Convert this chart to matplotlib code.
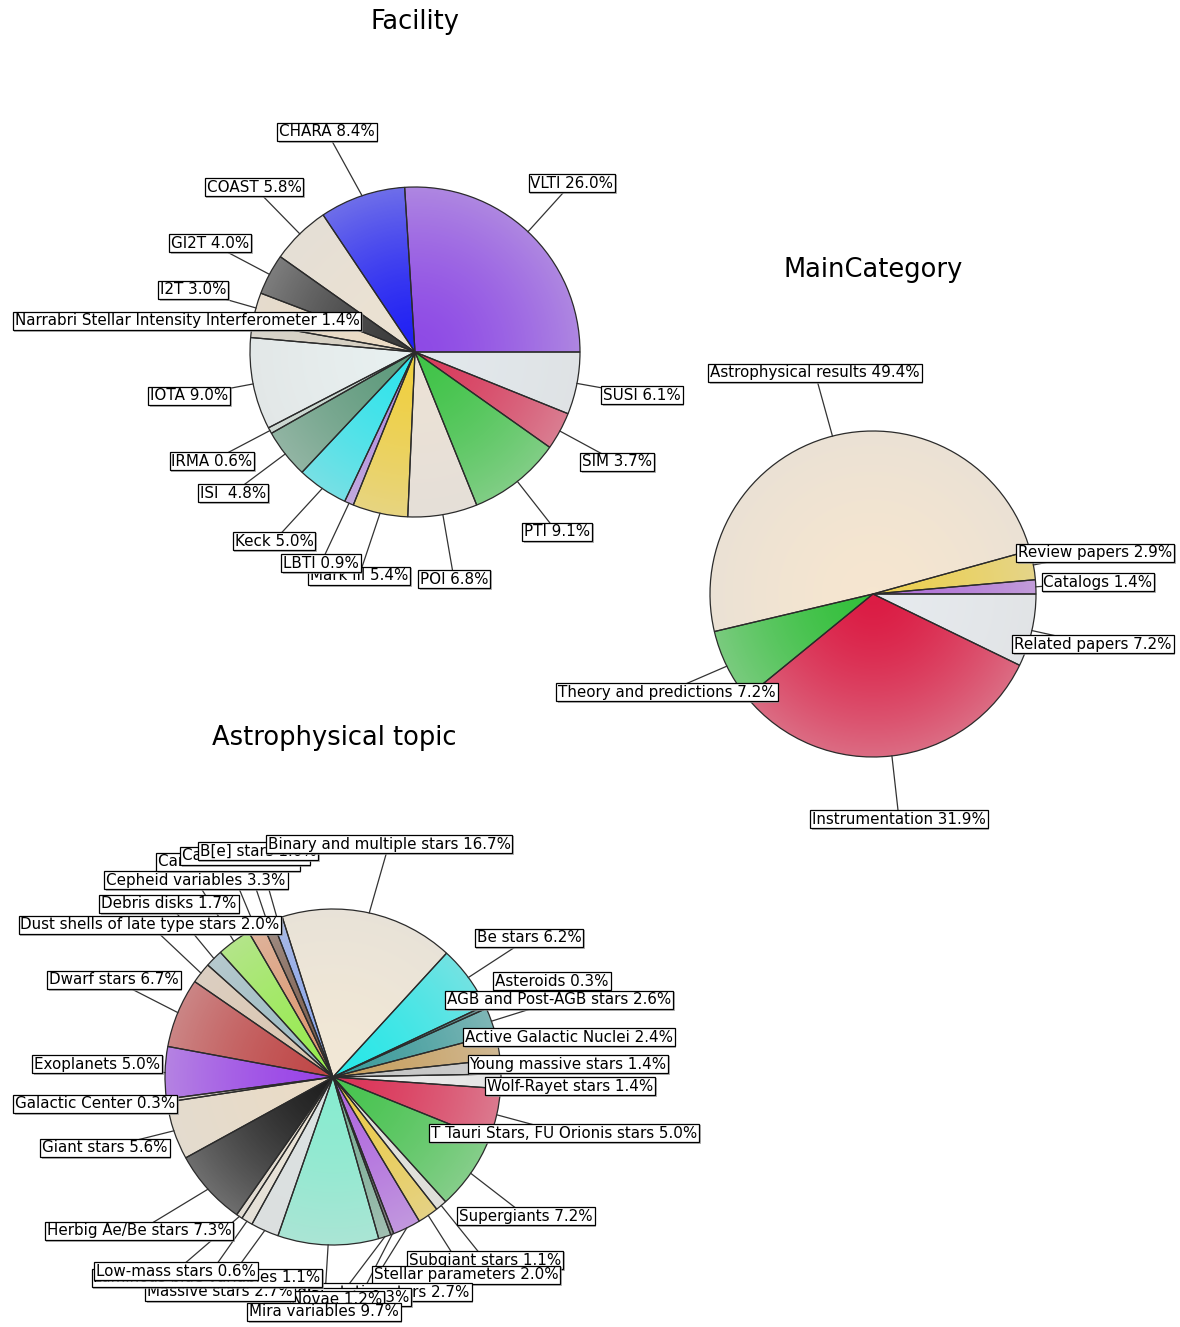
import numpy as np
import matplotlib
matplotlib.use('Agg')
import matplotlib.pyplot as plt
from matplotlib.patches import Circle
import matplotlib.patheffects as pe

W, H = 1180, 1327

# ---- Facility (counter-clockwise from 3 o'clock) ----
fac_names = ['VLTI', 'CHARA', 'COAST', 'GI2T', 'I2T',
             'Narrabri Stellar Intensity Interferometer', 'IOTA', 'IRMA',
             'ISI ', 'Keck', 'LBTI', 'Mark III', 'POI', 'PTI', 'SIM', 'SUSI']
fac_values = [26.0, 8.4, 5.8, 4.0, 3.0, 1.4, 9.0, 0.6, 4.8, 5.0, 0.9, 5.4,
              6.8, 9.1, 3.7, 6.1]
fac_colors = ['#8e4ae6', '#2020f4', '#ece2d2', '#3a3a3a', '#ecdcc4',
              '#d6cfc0', '#e8f0f0', '#c4d6cc', '#5e9a7c', '#30e4ec',
              '#b088e0', '#f0d040', '#ece2d6', '#40c448', '#d83a5c',
              '#e2e8ec']

# ---- MainCategory ----
main_names = ['Catalogs', 'Review papers', 'Astrophysical results',
              'Theory and predictions', 'Instrumentation', 'Related papers']
main_values = [1.4, 2.9, 49.4, 7.2, 31.9, 7.2]
main_colors = ['#b070d8', '#ecd050', '#f6e6d0', '#34c03c', '#dc1c44',
               '#e6eaee']

# ---- Astrophysical topic ----
astro_names = ['Wolf-Rayet stars', 'Young massive stars',
               'Active Galactic Nuclei', 'AGB and Post-AGB stars',
               'Asteroids', 'Be stars', 'Binary and multiple stars',
               'B[e] stars', 'Calibrators', 'Carbon stars',
               'Cepheid variables', 'Debris disks',
               'Dust shells of late type stars', 'Dwarf stars', 'Exoplanets',
               'Galactic Center', 'Giant stars', 'Herbig Ae/Be stars',
               'Low-mass stars', 'Luminous blue variables', 'Massive stars',
               'Mira variables', 'Novae', 'Planets',
               'Rapidly rotating stars', 'Stellar parameters',
               'Subgiant stars', 'Supergiants',
               'T Tauri Stars, FU Orionis stars']
astro_values = [1.4, 1.4, 2.4, 2.6, 0.3, 6.2, 16.7, 1.0, 1.0, 1.5, 3.3, 1.7,
                2.0, 6.7, 5.0, 0.3, 5.6, 7.3, 0.6, 1.1, 2.7, 9.7, 1.2, 0.3,
                2.7, 2.0, 1.1, 7.2, 5.0]
astro_colors = ['#ececec', '#c4c4c4', '#c8a060', '#3c9c9c', '#2a6a6a',
                '#28e8e8', '#f2e8d6', '#88a4ec', '#7a5a4a', '#e09870',
                '#98ec50', '#9cbcc4', '#dcc6b0', '#c04848', '#9a44e8',
                '#d8d0c0', '#eadcc6', '#202020', '#e6dccc', '#ece4d6',
                '#dce2e2', '#88ecd0', '#78ac94', '#505050', '#b068e0',
                '#eccc48', '#e2e2da', '#48c450', '#dc3458']

# label box centres (pixel coordinates of the 1180x1327 picture)
fac_label_xy = [(572, 183), (327, 132), (254, 187), (210, 243), (193, 290),
                (187, 321), (189, 396), (212, 461), (233, 493), (274, 541),
                (321, 563), (359, 576), (454, 579), (557, 532), (617, 462),
                (642, 395)]
main_label_xy = [(1098, 582), (1095, 553), (815, 373), (667, 692),
                 (899, 819), (1093, 644)]
astro_label_xy = [(570, 1086), (568, 1064), (569, 1037), (559, 1000),
                  (552, 981), (529, 938), (389, 844), (258, 851),
                  (245, 856), (228, 862), (196, 880), (169, 904),
                  (150, 925), (114, 980), (97, 1064), (95, 1104),
                  (105, 1148), (139, 1231), (176, 1271), (207, 1278),
                  (220, 1292), (324, 1312), (337, 1300), (360, 1297),
                  (367, 1292), (466, 1275), (485, 1260), (526, 1216),
                  (564, 1133)]

fig = plt.figure(figsize=(W / 100, H / 100), dpi=100)
ax = fig.add_axes([0, 0, 1, 1])


def draw_pie(names, values, colors, center, radius, start, label_xy,
             title, title_xy):
    cx, cy = center[0], H - center[1]
    wedges, _ = ax.pie(values, colors=colors, startangle=start,
                       center=(cx, cy), radius=radius,
                       wedgeprops=dict(linewidth=0, zorder=1))
    # light radial shading like the original gradient paint
    n = 300
    g = np.linspace(-1, 1, n)
    xx, yy = np.meshgrid(g, g)
    rr = np.sqrt(xx ** 2 + yy ** 2)
    img = np.zeros((n, n, 4))
    img[..., :3] = 0.86
    img[..., 3] = np.clip(0.42 * rr ** 1.5, 0, 0.42)
    im = ax.imshow(img, extent=(cx - radius, cx + radius, cy - radius,
                                cy + radius), zorder=2,
                   interpolation='bilinear')
    im.set_clip_path(Circle((cx, cy), radius, transform=ax.transData))
    ax.pie(values, colors=['none'] * len(values), startangle=start,
           center=(cx, cy), radius=radius,
           wedgeprops=dict(edgecolor='#2b2b2b', linewidth=0.9, zorder=3))

    k = len(values)
    for i, w in enumerate(wedges):
        mid = np.deg2rad((w.theta1 + w.theta2) / 2)
        ex = cx + radius * np.cos(mid)
        ey = cy + radius * np.sin(mid)
        lx, ly = label_xy[i][0], H - label_xy[i][1]
        ax.plot([ex, lx], [ey, ly], color='#333333', lw=0.9, zorder=4)
        t = ax.text(lx, ly, '%s %.1f%%' % (names[i], values[i]),
                    ha='center', va='center', fontsize=10.9,
                    zorder=10 + k - i,
                    bbox=dict(boxstyle='square,pad=0.12', fc='white',
                              ec='black', lw=0.9))
        t.get_bbox_patch().set_path_effects(
            [pe.SimplePatchShadow(offset=(1.2, -1.2), shadow_rgbFace='#999999',
                                  alpha=0.7), pe.Normal()])
    ax.text(title_xy[0], H - title_xy[1], title, ha='center', va='center',
            fontsize=18.5)


draw_pie(fac_names, fac_values, fac_colors, (415, 352), 165, 0,
         fac_label_xy, 'Facility', (415, 22))
draw_pie(main_names, main_values, main_colors, (873, 594), 163, 0,
         main_label_xy, 'MainCategory', (873, 270))
draw_pie(astro_names, astro_values, astro_colors, (333, 1077), 168, -4,
         astro_label_xy, 'Astrophysical topic', (334, 738))

ax.set_xlim(0, W)
ax.set_ylim(0, H)
ax.set_aspect('equal')
ax.axis('off')
fig.savefig('out.png', dpi=100, facecolor='white')
